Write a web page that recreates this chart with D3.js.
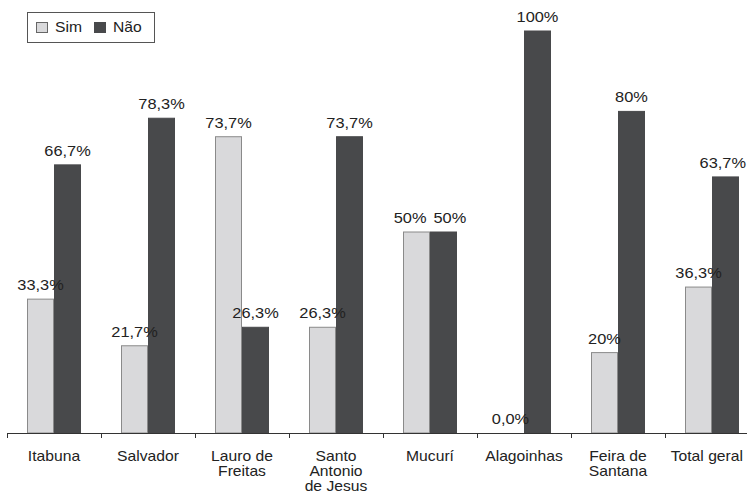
<!DOCTYPE html>
<html><head><meta charset="utf-8">
<script src="https://cdn.jsdelivr.net/npm/d3@7"></script>
<style>body{margin:0;background:#fff}svg{display:block}text{font-family:"Liberation Sans",Arial,sans-serif;fill:#222}</style>
</head><body><svg id="c" width="747" height="493"></svg>
<script>
const categories = ["Itabuna","Salvador","Lauro de\nFreitas","Santo\nAntonio\nde Jesus","Mucurí","Alagoinhas","Feira de\nSantana","Total geral"];
const series = ["Sim","Não"];
const simValues = [33.3,21.7,73.7,26.3,50,0,20,36.3];
const naoValues = [66.7,78.3,26.3,73.7,50,100,80,63.7];
const simLabels = ["33,3%","21,7%","73,7%","26,3%","50%","0,0%","20%","36,3%"];
const naoLabels = ["66,7%","78,3%","26,3%","73,7%","50%","100%","80%","63,7%"];

const colors = {"Sim":"#d9d9db","Não":"#48494b"};
const strokes = {"Sim":"#8a8a8a","Não":"#48494b"};

const svg = d3.select("#c");
const x0 = d3.scaleBand().domain(categories).range([7, 759]).padding(0);
const x1 = d3.scaleBand().domain(series).range([20, 74]).padding(0);
const y = d3.scaleLinear().domain([0,100]).range([433, 31]);

const rows = categories.map((c,i)=>({cat:c, vals:[
  {s:"Sim", v:simValues[i], l:simLabels[i]},
  {s:"Não", v:naoValues[i], l:naoLabels[i]}]}));

function stext(sel, x, yy, txt, size, anchor, sx){
  const g = sel.append("g").attr("transform", `translate(${x},${yy}) scale(${sx},1)`);
  const t = g.append("text").attr("text-anchor", anchor||"middle").attr("font-size", size).text(txt);
  return {g, t, w: t.node().getComputedTextLength()*sx};
}

const groups = svg.selectAll("g.cat").data(rows).join("g").attr("class","cat")
  .attr("transform", d=>`translate(${x0(d.cat)},0)`);
groups.selectAll("rect").data(d=>d.vals).join("rect")
  .attr("x", d=>x1(d.s)+0.5).attr("width", x1.bandwidth()-1)
  .attr("y", d=>y(d.v)).attr("height", d=>y(0)-y(d.v))
  .attr("fill", d=>colors[d.s]).attr("stroke", d=>strokes[d.s]).attr("stroke-width",1);
groups.each(function(d){
  const g = d3.select(this);
  const off = x0(d.cat);
  const labs = d.vals.map(v=>{
    const yy = y(v.v)-9;
    let cx = x1(v.s)+x1.bandwidth()/2;
    const o = stext(g, cx, yy, v.l, 14, "middle", 1.17);
    const right = off + cx + o.w/2;
    if (right > 746) { cx -= (right-746); o.g.attr("transform", `translate(${cx},${yy}) scale(1.17,1)`); }
    return {o, cx, yy};
  });
  const [a,b] = labs;
  if (Math.abs(a.yy-b.yy) < 12) {
    const need = (a.o.w + b.o.w)/2 + 7 - (b.cx - a.cx);
    if (need > 0) {
      a.o.g.attr("transform", `translate(${a.cx-need/2},${a.yy}) scale(1.17,1)`);
      b.o.g.attr("transform", `translate(${b.cx+need/2},${b.yy}) scale(1.17,1)`);
    }
  }
});

// axis
const axis = svg.append("g");
axis.append("line").attr("x1",7).attr("x2",747).attr("y1",433.5).attr("y2",433.5).attr("stroke","#333").attr("stroke-width",1.2);
const tickXs = categories.map(c=>x0(c)).concat([x0.range()[1]]);
axis.selectAll("line.t").data(tickXs).join("line").attr("class","t")
  .attr("x1",d=>Math.round(d)+0.5).attr("x2",d=>Math.round(d)+0.5).attr("y1",433).attr("y2",438).attr("stroke","#333");
categories.forEach(c=>{
  c.split("\n").forEach((line,k)=>{
    const cx = x0(c)+x0.bandwidth()/2;
    const o = stext(svg, cx, 461+k*15, line, 14, "middle", 1.12);
    const right = cx + o.w/2;
    if (right > 743) o.g.attr("transform", `translate(${cx-(right-743)},${461+k*15}) scale(1.12,1)`);
  });
});

// legend
const lg = svg.append("g");
lg.append("rect").attr("x",27.5).attr("y",12.5).attr("width",127).attr("height",30).attr("fill","#fff").attr("stroke","#555");
const lx = [36, 94];
series.forEach((s,i)=>{
  lg.append("rect").attr("x",lx[i]+0.5).attr("y",22.5).attr("width",11).attr("height",10)
    .attr("fill",colors[s]).attr("stroke",s==="Sim"?"#666":"#48494b");
  stext(lg, lx[i]+19, 32, s, 14, "start", 1.12);
});
</script></body></html>
